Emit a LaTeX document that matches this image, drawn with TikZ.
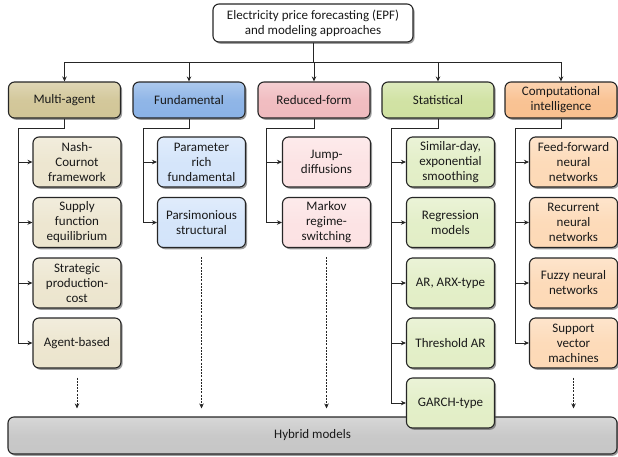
\documentclass[tikz,border=0pt]{standalone}
\usepackage{fontspec}
\setmainfont{Carlito}
\usetikzlibrary{shadows,arrows.meta}
\definecolor{maH}{HTML}{D1C596}\definecolor{maS}{HTML}{ECE5CE}
\definecolor{fuH}{HTML}{8AB2E6}\definecolor{fuS}{HTML}{D3E4FA}
\definecolor{rfH}{HTML}{F0BABE}\definecolor{rfS}{HTML}{FCE2E3}
\definecolor{stH}{HTML}{CFE1A0}\definecolor{stS}{HTML}{E2EEC6}
\definecolor{ciH}{HTML}{F9C08F}\definecolor{ciS}{HTML}{FDD9B6}
\definecolor{hyb}{HTML}{C6C6C6}
\tikzset{
  basebox/.style={draw=black!85, line width=1.1pt, rounded corners=6pt, align=center,
    font=\fontsize{13}{15}\selectfont, text=black!90, inner sep=1pt,
    drop shadow={shadow xshift=1.6pt, shadow yshift=-1.8pt, opacity=0.55, fill=black!70}},
  grad/.style={top color=#1!70!white, bottom color=#1, middle color=#1!95!white},
  hdr/.style={basebox, minimum width=112pt, minimum height=36pt, grad=#1},
  sub/.style={basebox, minimum width=88pt, minimum height=50pt, grad=#1},
  arr/.style={draw=black!85, line width=0.8pt, -{Stealth[length=5pt,width=4.5pt]}},
  darr/.style={draw=black!85, line width=0.7pt, dashed, dash pattern=on 2pt off 1.2pt,
    -{Stealth[length=5pt,width=4.5pt]}},
}
\begin{document}
\begin{tikzpicture}[x=1pt,y=-1pt]
\useasboundingbox (0,0) rectangle (618,456);
% top
\node[basebox, fill=white, minimum width=200pt, minimum height=38pt] (top) at (313,23)
  {Electricity price forecasting (EPF)\\and modeling approaches};
% headers
\node[hdr=maH] (h1) at (64.5,100) {Multi-agent};
\node[hdr=fuH] (h2) at (189,100) {Fundamental};
\node[hdr=rfH] (h3) at (314,100) {Reduced-form};
\node[hdr=stH] (h4) at (438,100) {Statistical};
\node[hdr=ciH] (h5) at (561,100) {Computational\\intelligence};
\coordinate (tb) at (313,62);
\foreach \h in {h1,h2,h3,h4,h5}{\draw[arr] (top.south) |- (tb) -| (\h.north);}
% hybrid
\node[basebox, grad=hyb, minimum width=609pt, minimum height=37pt] (hy) at (312.5,435.5) {Hybrid models};
% subs multi-agent
\node[sub=maS] (a1) at (77,162) {Nash-\\Cournot\\framework};
\node[sub=maS] (a2) at (77,222.5) {Supply\\function\\equilibrium};
\node[sub=maS] (a3) at (77,283) {Strategic\\production-\\cost};
\node[sub=maS] (a4) at (77,343) {Agent-based};
% fundamental
\node[sub=fuS] (b1) at (201.5,162) {Parameter\\rich\\fundamental};
\node[sub=fuS] (b2) at (201.5,222.5) {Parsimonious\\structural};
% reduced
\node[sub=rfS] (c1) at (326.5,162) {Jump-\\diffusions};
\node[sub=rfS] (c2) at (326.5,222.5) {Markov\\regime-\\switching};
% statistical
\node[sub=stS] (d1) at (450.5,162) {Similar-day,\\exponential\\smoothing};
\node[sub=stS] (d2) at (450.5,222.5) {Regression\\models};
\node[sub=stS] (d3) at (450.5,283) {AR, ARX-type};
\node[sub=stS] (d4) at (450.5,343) {Threshold AR};
\node[sub=stS] (d5) at (450.5,403) {GARCH-type};
% computational
\node[sub=ciS] (e1) at (573.5,162) {Feed-forward\\neural\\networks};
\node[sub=ciS] (e2) at (573.5,222.5) {Recurrent\\neural\\networks};
\node[sub=ciS] (e3) at (573.5,283) {Fuzzy neural\\networks};
\node[sub=ciS] (e4) at (573.5,343) {Support\\vector\\machines};
% buses
\coordinate (ba) at (18,128);
\coordinate (bb) at (143,128);
\coordinate (bc) at (266,128);
\coordinate (bd) at (391,128);
\coordinate (be) at (515,128);
\foreach \s in {a1,a2,a3,a4}{\draw[arr] (h1.south) |- (ba) |- (\s.west);}
\foreach \s in {b1,b2}{\draw[arr] (h2.south) |- (bb) |- (\s.west);}
\foreach \s in {c1,c2}{\draw[arr] (h3.south) |- (bc) |- (\s.west);}
\foreach \s in {d1,d2,d3,d4,d5}{\draw[arr] (h4.south) |- (bd) |- (\s.west);}
\foreach \s in {e1,e2,e3,e4}{\draw[arr] (h5.south) |- (be) |- (\s.west);}
% dashed to hybrid
\draw[darr, shorten <=9pt, shorten >=8pt] (a4.south) -- (a4.south |- hy.north);
\draw[darr, shorten <=9pt, shorten >=8pt] (b2.south) -- (b2.south |- hy.north);
\draw[darr, shorten <=9pt, shorten >=8pt] (c2.south) -- (c2.south |- hy.north);
\draw[darr, shorten <=9pt, shorten >=8pt] (e4.south) -- (e4.south |- hy.north);
\end{tikzpicture}
\end{document}
